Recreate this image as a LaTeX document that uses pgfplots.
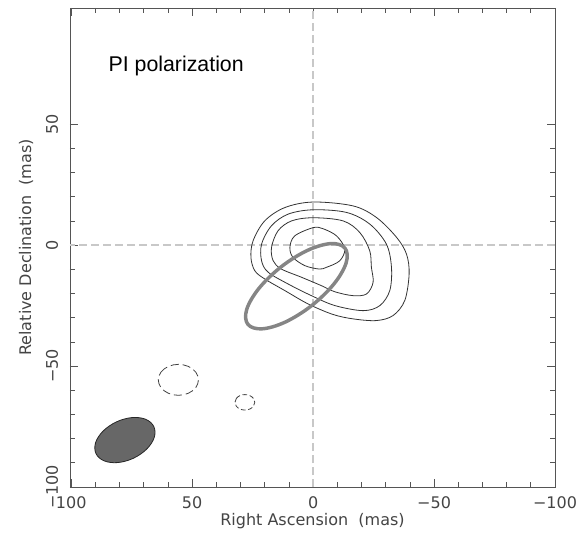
\documentclass[border=0pt]{standalone}
\usepackage{pgfplots}
\pgfplotsset{compat=1.18}
\usepackage{fontspec}
\setmainfont{DejaVu Sans}
\newfontfamily\titlefont{Liberation Sans}
\definecolor{axgray}{HTML}{555555}
\definecolor{txtgray}{HTML}{444444}
\definecolor{crossgray}{HTML}{C8C8C8}
\definecolor{beamfill}{HTML}{676767}
\definecolor{ringgray}{HTML}{858585}
\begin{document}
\begin{tikzpicture}
\begin{axis}[
  at={(52.5pt,36.75pt)}, anchor=south west,
  scale only axis, width=363.75pt, height=359.25pt,
  x dir=reverse,
  xmin=-100, xmax=100.5, ymin=-100, ymax=98,
  xtick={-100,-50,0,50,100}, xticklabels={−100,−50,0,50,100},
  ytick={-100,-50,0,50}, yticklabels={−100,−50,0,50},
  minor tick num=4,
  tick align=inside, tick pos=both,
  major tick length=6pt, minor tick length=3.75pt,
  axis line style={axgray, line width=0.6pt},
  every tick/.style={axgray, line width=0.6pt},
  every minor tick/.style={axgray, line width=0.5pt},
  tick label style={font=\fontsize{12}{14}\selectfont, text=txtgray},
  xticklabel style={anchor=center, yshift=-11.8pt},
  yticklabel style={anchor=center, xshift=-13.5pt, rotate=90},
  xlabel={Right Ascension\ \ (mas)},
  ylabel={Relative Declination\ \ (mas)},
  label style={font=\fontsize{12}{14}\selectfont, text=txtgray},
  xlabel style={at={(axis description cs:0.5,-0.071)}, anchor=center},
  ylabel style={at={(axis description cs:-0.0907,0.5)}, anchor=center},
  clip=false,
]
% crosshair
\addplot[crossgray, line width=1pt, dash pattern=on 6pt off 3pt] coordinates {(0,-100) (0,98)};
\addplot[crossgray, line width=1pt, dash pattern=on 6pt off 3pt] coordinates {(-100,0) (100.5,0)};
% contours
\addplot[black!80, line width=0.6pt, smooth cycle, tension=0.55] coordinates {
 (0,17.8) (11.7,15.5) (20,10) (24.8,1.8) (25.7,-5.1) (24.1,-10.6) (20,-14) (11.7,-18.8) (2.1,-24.3) (-8,-28.6) (-16.5,-30.5) (-26.2,-31.2) (-33.1,-29.1) (-37.9,-22.9) (-39.7,-11.9) (-38.6,-3.7) (-34.5,3.2) (-26.2,11.4) (-16.5,16.2)};
\addplot[black!80, line width=0.6pt, smooth cycle, tension=0.55] coordinates {
 (0,14.6) (10.3,12.8) (17.2,8) (21.3,0.4) (21.3,-6.5) (18.6,-11.2) (10.3,-16.1) (0.7,-20.9) (-9,-25) (-20.7,-27.1) (-27.6,-25) (-31.7,-18.8) (-32.4,-9.2) (-30.3,0.4) (-23.4,8.7) (-13.8,13.5)};
\addplot[black!80, line width=0.6pt, smooth cycle, tension=0.55] coordinates {
 (0,11.3) (8.9,10) (14.5,5.9) (17.2,-1) (16.5,-6.5) (13.1,-9.9) (4.8,-13.3) (-3.5,-16.8) (-9,-19.3) (-16.5,-20.9) (-22.1,-20.2) (-24.8,-15.4) (-24.1,-9.2) (-23.4,-2.3) (-19.3,5.2) (-12.4,10)};
\addplot[black!80, line width=0.6pt, smooth cycle, tension=0.55] coordinates {
 (0,7.2) (7.6,3.8) (9.6,-1) (8.3,-5.1) (3.4,-8.5) (-2.5,-9.9) (-5.5,-9.2) (-11,-6.5) (-13.1,-1.6) (-9.7,3.8) (-4,6.8)};
% thick gray ellipse
\addplot[ringgray, line width=2.6pt, smooth cycle, tension=0.6] coordinates {
 (-13.19,-1.29) (-7.36,0.62) (2.29,-2.18) (13.18,-8.96) (22.39,-17.90) (27.44,-26.58) (26.99,-32.71) (21.16,-34.62) (11.51,-31.82) (0.62,-25.04) (-8.59,-16.10) (-13.64,-7.42)};
% beam
\addplot[draw=black!85, line width=0.6pt, fill=beamfill, smooth cycle, tension=0.6] coordinates {
 (65.84,-75.02) (69.20,-72.01) (74.86,-71.30) (81.31,-73.08) (86.82,-76.88) (89.92,-81.67) (89.76,-86.18) (86.40,-89.19) (80.74,-89.90) (74.29,-88.12) (68.78,-84.32) (65.68,-79.53)};
% dashed negative contours
\addplot[black!75, line width=0.6pt, dash pattern=on 6pt off 3pt, smooth cycle, tension=0.6] coordinates {
 (64.0,-55.7) (62.89,-52.5) (59.85,-50.16) (55.7,-49.3) (51.55,-50.16) (48.51,-52.5) (47.4,-55.7) (48.51,-58.9) (51.55,-61.24) (55.7,-62.1) (59.85,-61.24) (62.89,-58.9)};
\addplot[black!75, line width=0.6pt, dash pattern=on 3.5pt off 2pt, smooth cycle, tension=0.6] coordinates {
 (32.3,-65) (31.75,-63.4) (30.25,-62.23) (28.2,-61.8) (26.15,-62.23) (24.65,-63.4) (24.1,-65) (24.65,-66.6) (26.15,-67.77) (28.2,-68.2) (30.25,-67.77) (31.75,-66.6)};
\node[anchor=base west, font=\titlefont\fontsize{16}{19}\selectfont, text=black] at (axis cs:86.5,71.8) {PI polarization};
\end{axis}
\pgfresetboundingbox
\path (0,0) rectangle (432.75pt,402pt);
\end{tikzpicture}
\end{document}
